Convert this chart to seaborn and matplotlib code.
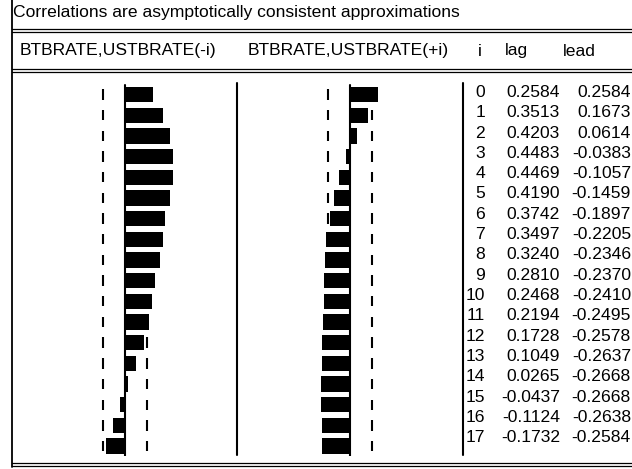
import matplotlib
matplotlib.use("Agg")
import matplotlib.pyplot as plt
import seaborn as sns
import pandas as pd
from matplotlib.lines import Line2D

sns.set_theme(style="white")
plt.rcParams['font.family'] = ['Liberation Sans', 'DejaVu Sans']

title = "Correlations are asymptotically consistent approximations"
headers = ["BTBRATE,USTBRATE(-i)", "BTBRATE,USTBRATE(+i)", "i", "lag", "lead"]
lags = list(range(18))
lag_vals = [0.2584, 0.3513, 0.4203, 0.4483, 0.4469, 0.4190, 0.3742, 0.3497, 0.3240,
            0.2810, 0.2468, 0.2194, 0.1728, 0.1049, 0.0265, -0.0437, -0.1124, -0.1732]
lead_vals = [0.2584, 0.1673, 0.0614, -0.0383, -0.1057, -0.1459, -0.1897, -0.2205, -0.2346,
             -0.2370, -0.2410, -0.2495, -0.2578, -0.2637, -0.2668, -0.2668, -0.2638, -0.2584]
band = 0.2

df = pd.DataFrame({"i": lags, "lag": lag_vals, "lead": lead_vals})

W, H = 632, 469
fig = plt.figure(figsize=(W / 100, H / 100), dpi=100)
fig.patch.set_facecolor("white")

def px_axes(x0, y0, x1, y1):
    return fig.add_axes([x0 / W, 1 - y1 / H, (x1 - x0) / W, (y1 - y0) / H])

ov = px_axes(0, 0, W, H)
ov.set_xlim(0, W)
ov.set_ylim(H, 0)
ov.axis("off")

ytop, ybot = 83, 456
bar0, barstep = 94.5, 20.68
ylim_bars = ((ybot - bar0) / barstep, (ytop - bar0) / barstep)
txt0, txtstep = 92.5, 20.3
ylim_txt = ((ybot - txt0) / txtstep, (ytop - txt0) / txtstep)
ppu = 108.0

panels = [(12, 237, 125, "lag"), (237, 463, 350, "lead")]
for x0, x1, zero, col in panels:
    ax = px_axes(x0, ytop, x1, ybot)
    sns.barplot(data=df, x=col, y="i", orient="h", color="black", saturation=1,
                width=0.74, linewidth=0, ax=ax)
    ax.set_xlim((x0 - zero) / ppu, (x1 - zero) / ppu)
    ax.set_ylim(*ylim_bars)
    ax.axis("off")
    ax.axvline(0, ymin=0.0, ymax=0.995, color="black", lw=1.5)
    for k in df["i"]:
        ax.vlines([-band, band], k - 0.25, k + 0.25, color="black", lw=1.5, zorder=0)

tab = px_axes(463, ytop, W, ybot)
tab.set_xlim(463, W)
tab.set_ylim(*ylim_txt)
tab.axis("off")
fs = 12.6
for k, a, b in zip(df["i"], df["lag"], df["lead"]):
    tab.text(485, k, f"{k}", ha="right", va="center", fontsize=fs, color="black")
    tab.text(560, k, f"{a:.4f}", ha="right", va="center", fontsize=fs, color="black")
    tab.text(631, k, f"{b:.4f}", ha="right", va="center", fontsize=fs, color="black")

lk = dict(color="black", lw=0.9)
ov.add_line(Line2D([12, 12], [0, 467], color="black", lw=1.3))
for y in (29.5, 32.5):
    ov.add_line(Line2D([12, W], [y, y], **lk))
for y in (69, 72):
    ov.add_line(Line2D([12, W], [y, y], **lk))
for y in (463.5, 466.5):
    ov.add_line(Line2D([12, W], [y, y], **lk))
for x in (237, 463):
    ov.add_line(Line2D([x, x], [ytop, ybot - 1], color="black", lw=1.5))

ov.text(13, 13, title, ha="left", va="center", fontsize=fs, color="black")
hy = 51
ov.text(20, hy, headers[0], ha="left", va="center", fontsize=fs, color="black")
ov.text(248, hy, headers[1], ha="left", va="center", fontsize=fs, color="black")
ov.text(480, hy, headers[2], ha="center", va="center", fontsize=fs, color="black")
ov.text(505, hy, headers[3], ha="left", va="center", fontsize=fs, color="black")
ov.text(563, hy, headers[4], ha="left", va="center", fontsize=fs, color="black")

fig.savefig("out.png", dpi=100, facecolor="white")
